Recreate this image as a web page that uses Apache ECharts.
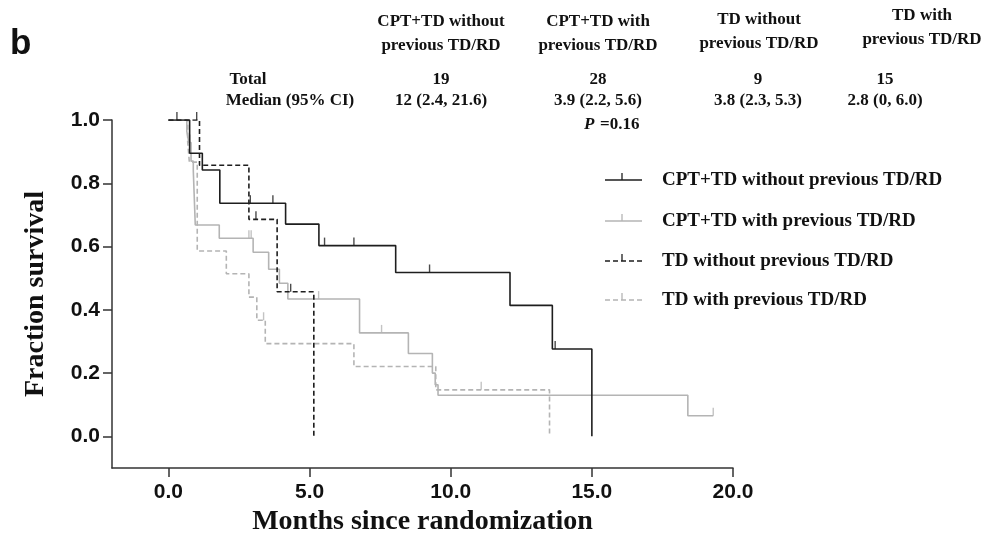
<!DOCTYPE html>
<html>
<head>
<meta charset="utf-8">
<script src="https://cdn.jsdelivr.net/npm/echarts@6/dist/echarts.min.js"></script>
<style>
html,body{margin:0;padding:0;background:#fff;}
#chart{width:989px;height:545px;}
</style>
</head>
<body>
<div id="chart"></div>
<script>
// ---- Data ----
var groupNames = ['CPT+TD without previous TD/RD','CPT+TD with previous TD/RD','TD without previous TD/RD','TD with previous TD/RD'];
var headerLine1 = ['CPT+TD without','CPT+TD with','TD without','TD with'];
var headerLine2 = ['previous TD/RD','previous TD/RD','previous TD/RD','previous TD/RD'];
var totals = ['19','28','9','15'];
var medians = ['12 (2.4, 21.6)','3.9 (2.2, 5.6)','3.8 (2.3, 5.3)','2.8 (0, 6.0)'];
var pValueText = '=0.16';

// event times (months) and survival fraction after each step
var cptNoPrevTime = [0, 0.75, 1.2, 1.82, 4.15, 5.33, 8.05, 12.1, 13.6, 15.0];
var cptNoPrevSurv = [1.0, 0.895, 0.842, 0.737, 0.671, 0.603, 0.518, 0.414, 0.276, 0.0];
var cptNoPrevCensor = [0.3, 2.9, 3.7, 5.53, 6.57, 9.25, 13.7];

var cptPrevTime = [0, 0.65, 0.72, 0.8, 0.88, 0.95, 1.8, 3.0, 3.55, 3.93, 4.23, 6.77, 8.5, 9.35, 9.45, 9.55, 18.4, 19.3];
var cptPrevSurv = [1.0, 0.964, 0.929, 0.87, 0.84, 0.668, 0.626, 0.582, 0.528, 0.484, 0.434, 0.327, 0.262, 0.2, 0.163, 0.13, 0.065, 0.065];
var cptPrevCensor = [0.76, 2.85, 2.93, 5.32, 7.55, 19.3];

var tdNoPrevTime = [0, 1.1, 2.85, 3.85, 5.15];
var tdNoPrevSurv = [1.0, 0.857, 0.686, 0.457, 0.0];
var tdNoPrevCensor = [1.0, 3.1, 4.33];

var tdPrevTime = [0, 0.68, 0.74, 1.02, 2.05, 2.85, 3.13, 3.43, 6.57, 9.47, 13.5];
var tdPrevSurv = [1.0, 0.933, 0.867, 0.586, 0.514, 0.44, 0.367, 0.293, 0.221, 0.147, 0.0];
var tdPrevCensor = [3.37, 11.08];

var xTicks = [0, 5, 10, 15, 20];
var yTicks = [0, 0.2, 0.4, 0.6, 0.8, 1.0];

// ---- Helpers ----
function zip(t, s){ return t.map(function(v,i){ return [v, s[i]]; }); }
function survAt(t, s, x){ var v = s[0]; for (var i=0;i<t.length;i++){ if (t[i] <= x) v = s[i]; } return v; }
function censorPts(t, s, c){ return c.map(function(x){ return [x, survAt(t, s, x)]; }); }

var DARK = '#1e1e1e', LIGHT = '#b4b4b4';
var styles = [
  {color: DARK, type: 'solid'},
  {color: LIGHT, type: 'solid'},
  {color: DARK, type: [5, 3]},
  {color: LIGHT, type: [5, 3]}
];
var curves = [
  [cptNoPrevTime, cptNoPrevSurv, cptNoPrevCensor],
  [cptPrevTime, cptPrevSurv, cptPrevCensor],
  [tdNoPrevTime, tdNoPrevSurv, tdNoPrevCensor],
  [tdPrevTime, tdPrevSurv, tdPrevCensor]
];

var series = [];
[1, 3, 0, 2].forEach(function(i){
  var c = curves[i], st = styles[i];
  series.push({
    type: 'line', name: groupNames[i], step: 'end', showSymbol: false, symbol: 'none',
    data: zip(c[0], c[1]), z: i % 2 === 0 ? 4 : 3,
    lineStyle: {color: st.color, width: 1.6, type: st.type}, silent: true
  });
  series.push({
    type: 'scatter', data: censorPts(c[0], c[1], c[2]), symbol: 'rect', symbolSize: [1.4, 8],
    symbolOffset: [0, -4], itemStyle: {color: st.color}, z: i % 2 === 0 ? 4 : 3, silent: true
  });
});

var serif = '"Liberation Serif", "DejaVu Serif", serif';
var sans = '"Liberation Sans", Arial, sans-serif';
var graphics = [];
graphics.push({type:'text', left: 10, top: 27, style:{text:'b', font:'bold 35px ' + sans, fill:'#111'}});
var colX = [441, 598, 759, 922];
var h1Y = [22, 22, 20, 16];
var h2Y = [46, 46, 44, 40];
function ctext(x, y, txt, size){
  return {type:'text', x: x, y: y, style:{text: txt, font: 'bold ' + size + 'px ' + serif, fill:'#111', align:'center', verticalAlign:'middle'}};
}
for (var k=0;k<4;k++){
  graphics.push(ctext(colX[k], h1Y[k], headerLine1[k], 17));
  graphics.push(ctext(colX[k], h2Y[k], headerLine2[k], 17));
}
var valX = [441, 598, 758, 885];
graphics.push(ctext(248, 80, 'Total', 17));
graphics.push(ctext(290, 101, 'Median (95% CI)', 17));
for (var k=0;k<4;k++){
  graphics.push(ctext(valX[k], 80, totals[k], 17));
  graphics.push(ctext(valX[k], 101, medians[k], 17));
}
graphics.push({type:'text', x: 584, y: 125, style:{text:'P', font:'italic bold 17px ' + serif, fill:'#111', verticalAlign:'middle'}});
graphics.push({type:'text', x: 600, y: 125, style:{text: pValueText, font:'bold 17px ' + serif, fill:'#111', verticalAlign:'middle'}});

// legend
var legY = [180, 221, 261, 300];
for (var k=0;k<4;k++){
  var st = styles[k];
  graphics.push({type:'line', shape:{x1:605, y1:legY[k], x2:642, y2:legY[k]}, style:{stroke: st.color, lineWidth:1.6, lineDash: st.type === 'solid' ? null : [5,3]}});
  graphics.push({type:'line', shape:{x1:622, y1:legY[k]-7, x2:622, y2:legY[k]}, style:{stroke: st.color, lineWidth:1.3}});
  graphics.push({type:'text', x: 662, y: legY[k], style:{text: groupNames[k], font:'bold 19px ' + serif, fill:'#111', verticalAlign:'middle'}});
}

var chart = echarts.init(document.getElementById('chart'), null, {renderer:'canvas'});
chart.setOption({
  animation: false,
  backgroundColor: '#fff',
  grid: {left: 112, right: 256, top: 120, bottom: 77, containLabel: false},
  xAxis: {
    type: 'value', min: -2, max: 20,
    name: 'Months since randomization', nameLocation: 'middle', nameGap: 36,
    nameTextStyle: {fontFamily: serif, fontWeight: 'bold', fontSize: 28, color: '#111'},
    axisLine: {show: true, onZero: false, lineStyle: {color: '#333', width: 1.5}},
    axisTick: {show: true, length: 9, customValues: xTicks, lineStyle: {color: '#333', width: 1.5}},
    axisLabel: {customValues: xTicks, margin: 14, fontFamily: sans, fontWeight: 'bold', fontSize: 21, color: '#111',
      formatter: function(v){ return v.toFixed(1); }},
    splitLine: {show: false}
  },
  yAxis: {
    type: 'value', min: -0.1, max: 1.0,
    name: 'Fraction survival', nameLocation: 'middle', nameGap: 62, nameRotate: 90,
    nameTextStyle: {fontFamily: serif, fontWeight: 'bold', fontSize: 28, color: '#111'},
    axisLine: {show: true, onZero: false, lineStyle: {color: '#333', width: 1.5}},
    axisTick: {show: true, length: 9, customValues: yTicks, lineStyle: {color: '#333', width: 1.5}},
    axisLabel: {customValues: yTicks, margin: 12, fontFamily: sans, fontWeight: 'bold', fontSize: 21, color: '#111',
      formatter: function(v){ return v.toFixed(1); }},
    splitLine: {show: false}
  },
  series: series,
  graphic: graphics
});
</script>
</body>
</html>
